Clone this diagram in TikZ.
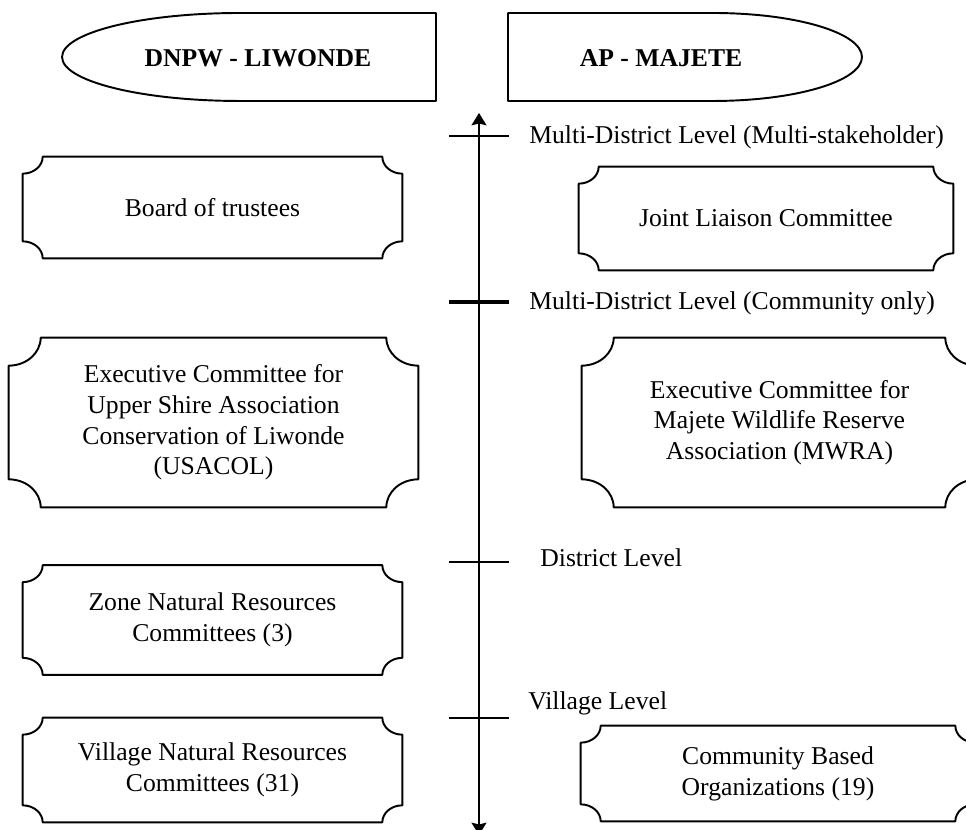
\documentclass[tikz,border=0pt]{standalone}
\usepackage{fontspec}
\setmainfont{Liberation Serif}
\usetikzlibrary{arrows.meta}
% frame with concave corners round a node: name, x radius, y radius
\newcommand{\plaqueframe}[3]{%
  \draw[plaqueline] ([xshift=#2]#1.north west) -- ([xshift=-#2]#1.north east)
    arc[start angle=180,end angle=270,x radius=#2,y radius=#3]
    -- ([yshift=#3]#1.south east)
    arc[start angle=90,end angle=180,x radius=#2,y radius=#3]
    -- ([xshift=#2]#1.south west)
    arc[start angle=0,end angle=90,x radius=#2,y radius=#3]
    -- ([yshift=-#3]#1.north west)
    arc[start angle=270,end angle=360,x radius=#2,y radius=#3] -- cycle;}
\begin{document}
\begin{tikzpicture}[x=0.02cm,y=-0.02cm,>={Stealth[length=7pt,width=8.5pt,inset=1pt]},
		line join=round,font=\fontsize{14.6}{17.5}\selectfont,
		plaqueline/.style={line width=1.1pt},
		plaque/.style={inner sep=0pt,align=center},
		lvl/.style={anchor=west,inner sep=0pt}]
	\useasboundingbox (0,0) rectangle (966,830);
	\clip (0,0) rectangle (966,830);
	% headings
	\node[font=\fontsize{14.6}{17.5}\selectfont\bfseries] (dnpw) at (258,58) {DNPW - LIWONDE};
	\draw[plaqueline] (436,13) -- (240,13) arc[start angle=90,end angle=270,x radius=3.56cm,y radius=0.88cm] -- (436,101) -- cycle;
	\node[font=\fontsize{14.6}{17.5}\selectfont\bfseries] (apm) at (661,58) {AP - MAJETE};
	\draw[plaqueline] (508,13) -- (713,13) arc[start angle=90,end angle=-90,x radius=2.98cm,y radius=0.88cm] -- (508,101) -- cycle;
	% axis of levels
	\coordinate (axtop) at (479,113);
	\coordinate (axbot) at (479,835);
	\draw[<->,line width=1.3pt] (axtop) -- (axbot);
	\foreach \y/\w in {136/1pt,302/2.2pt,562/1pt,718/1pt}
		\draw[line width=\w] (449,\y) -- (509,\y);
	\node[lvl] (multi) at (529,137) {Multi-District Level (Multi-stakeholder)};
	\node[lvl] (comm) at (529,303) {Multi-District Level (Community only)};
	\node[lvl] (dist) at (540,558) {District Level};
	\node[lvl] (vill) at (528,703) {Village Level};
	% Liwonde side
	\node[plaque,minimum width=7.58cm,minimum height=2.02cm] (board) at (212.5,207.5) {Board of trustees};
	\node[plaque,minimum width=8.18cm,minimum height=3.38cm] (usacol) at (213.5,422.5) {Executive Committee for\\Upper Shire Association\\Conservation of Liwonde\\(USACOL)};
	\node[plaque,minimum width=7.58cm,minimum height=2.18cm] (zone) at (212.5,620) {Zone Natural Resources\\Committees (3)};
	\node[plaque,minimum width=7.58cm,minimum height=2.08cm] (vnrc) at (212.5,770) {Village Natural Resources\\Committees (31)};
	% Majete side
	\node[plaque,minimum width=7.48cm,minimum height=2.06cm] (joint) at (766,218.5) {Joint Liaison Committee};
	\node[plaque,minimum width=7.9cm,minimum height=3.38cm] (mwra) at (779.5,422.5) {Executive Committee for\\Majete Wildlife Reserve\\Association (MWRA)};
	\node[plaque,minimum width=7.88cm,minimum height=1.9cm] (cbo) at (778,773.5) {Community Based\\Organizations (19)};
	\foreach \n in {board,zone,vnrc,joint,cbo}
		{\plaqueframe{\n}{0.4cm}{0.34cm}}
	\foreach \n in {usacol,mwra}
		{\plaqueframe{\n}{0.64cm}{0.56cm}}
\end{tikzpicture}
\end{document}
